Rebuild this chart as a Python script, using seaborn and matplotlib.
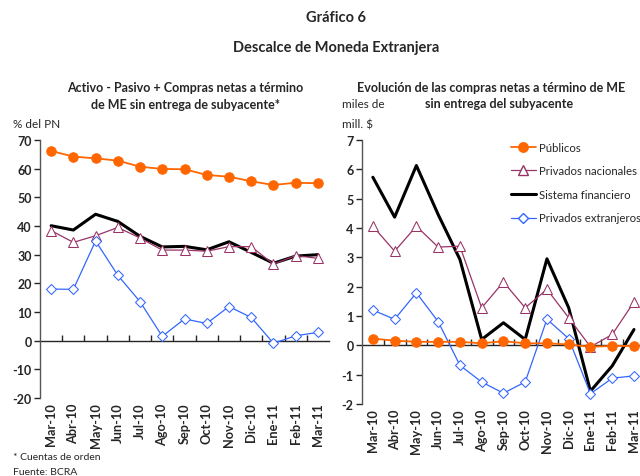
import numpy as np
import pandas as pd
import seaborn as sns
import matplotlib.pyplot as plt
from matplotlib.lines import Line2D

meses = ["Mar-10", "Abr-10", "May-10", "Jun-10", "Jul-10", "Ago-10", "Sep-10",
         "Oct-10", "Nov-10", "Dic-10", "Ene-11", "Feb-11", "Mar-11"]

# Left panel: % del PN
pub_pn = [66.2, 64.2, 63.6, 62.8, 60.7, 59.9, 59.8, 57.8, 57.2, 55.6, 54.3, 55.1, 54.9]
sf_pn = [40.1, 38.6, 44.1, 41.6, 36.4, 32.7, 32.9, 31.7, 34.5, 30.8, 27.0, 29.5, 30.0]
nac_pn = [38.4, 34.3, 36.6, 39.5, 35.8, 31.6, 31.6, 31.2, 32.8, 32.8, 26.7, 29.7, 28.7]
ext_pn = [18.0, 17.9, 34.8, 22.8, 13.6, 1.5, 7.6, 6.0, 11.9, 8.1, -0.9, 1.7, 2.9]

# Right panel: miles de mill. $
pub_m = [0.23, 0.16, 0.12, 0.12, 0.12, 0.07, 0.14, 0.07, 0.07, 0.03, -0.05, -0.02, -0.02]
nac_m = [4.06, 3.21, 4.06, 3.35, 3.38, 1.28, 2.16, 1.28, 1.91, 0.94, -0.05, 0.37, 1.48]
sf_m = [5.73, 4.37, 6.13, 4.46, 2.93, 0.20, 0.77, 0.20, 2.95, 1.28, -1.56, -0.70, 0.54]
ext_m = [1.20, 0.89, 1.79, 0.81, -0.68, -1.25, -1.63, -1.25, 0.89, 0.23, -1.65, -1.12, -1.04]

sns.set_style("white")
plt.rcParams['font.family'] = ['Lato', 'DejaVu Sans']

ORANGE = "#FF6600"
PURPLE = "#993366"
BLUE = "#3366FF"

styles = {
    "Públicos": dict(color=ORANGE, marker="o", markersize=6.8, lw=1.3,
                     markerfacecolor=ORANGE, markeredgecolor=ORANGE),
    "Privados nacionales": dict(color=PURPLE, marker="^", markersize=6.8, lw=0.9,
                                markerfacecolor="white", markeredgecolor=PURPLE),
    "Sistema financiero": dict(color="black", marker=None, lw=2.2),
    "Privados extranjeros": dict(color=BLUE, marker="D", markersize=5.2, lw=0.9,
                                 markerfacecolor="white", markeredgecolor=BLUE),
}

fig = plt.figure(figsize=(6.4, 4.77), dpi=100)
axL = fig.add_axes([0.0625, 0.1635, 0.4516, 0.5409])
axR = fig.add_axes([0.5656, 0.1509, 0.442, 0.5535])

x = np.arange(len(meses))


def draw(ax, series, ylim, yticks):
    for name, vals in series:
        st = dict(styles[name])
        sns.lineplot(x=x, y=vals, ax=ax, label=name, **st)
    ax.set_xlim(-0.5, len(meses) - 0.5)
    ax.set_ylim(*ylim)
    ax.set_yticks(yticks)
    ax.set_xticks(x)
    ax.set_xticklabels(meses, rotation=90, fontweight="bold", fontsize=9.2)
    ax.set_yticklabels([str(t) for t in yticks], fontweight="bold", fontsize=9)
    ax.tick_params(axis="x", length=0, pad=3)
    ax.tick_params(axis="y", length=4, width=1, direction="out", left=True, pad=2)
    for s in ["top", "right", "bottom"]:
        ax.spines[s].set_visible(False)
    ax.spines["left"].set_color("#555555")
    ax.spines["left"].set_linewidth(1)
    # zero line with category separators
    frac = -ylim[0] / (ylim[1] - ylim[0])
    sec = ax.secondary_xaxis(frac)
    sec.set_xticks(np.arange(len(meses) - 1) + 0.5)
    sec.set_xticklabels([])
    sec.tick_params(length=4, direction="in", width=1)
    sec.spines["bottom"].set_linewidth(1)
    ax.set_xlabel("")
    ax.set_ylabel("")
    ax.get_legend().remove()


draw(axL, [("Públicos", pub_pn), ("Sistema financiero", sf_pn),
           ("Privados nacionales", nac_pn), ("Privados extranjeros", ext_pn)],
     (-20, 70), list(range(-20, 71, 10)))
draw(axR, [("Sistema financiero", sf_m), ("Privados nacionales", nac_m),
           ("Privados extranjeros", ext_m), ("Públicos", pub_m)],
     (-2, 7), list(range(-2, 8)))

order = ["Públicos", "Privados nacionales", "Sistema financiero", "Privados extranjeros"]
handles = [Line2D([], [], **styles[n]) for n in order]
axR.legend(handles, order, loc="upper left", bbox_to_anchor=(0.51, 1.01),
           frameon=False, fontsize=8.2, handlelength=2.2, handletextpad=0.3,
           labelspacing=1.1, borderaxespad=0)

fig.text(0.525, 0.962, "Gráfico 6", ha="center", va="center", fontweight="bold", fontsize=10.5)
fig.text(0.525, 0.9, "Descalce de Moneda Extranjera", ha="center", va="center",
         fontweight="bold", fontsize=10.5)
fig.text(0.29, 0.815, "Activo - Pasivo + Compras netas a término", ha="center", va="center",
         fontweight="bold", fontsize=9)
fig.text(0.29, 0.78, "de ME sin entrega de subyacente*", ha="center", va="center",
         fontweight="bold", fontsize=9)
fig.text(0.558, 0.815, "Evolución de las compras netas a término de ME", ha="left", va="center",
         fontweight="bold", fontsize=9)
fig.text(0.78, 0.782, "sin entrega del subyacente", ha="center", va="center",
         fontweight="bold", fontsize=9)
fig.text(0.534, 0.78, "miles de", ha="left", va="center", fontsize=8.5)
fig.text(0.534, 0.738, "mill. $", ha="left", va="center", fontsize=8.5)
fig.text(0.02, 0.738, "% del PN", ha="left", va="center", fontsize=8.5)
fig.text(0.02, 0.04, "* Cuentas de orden", ha="left", va="center", fontsize=7.5)
fig.text(0.02, 0.001, "Fuente: BCRA", ha="left", va="bottom", fontsize=7.5)

fig.savefig("out.png", dpi=100)
